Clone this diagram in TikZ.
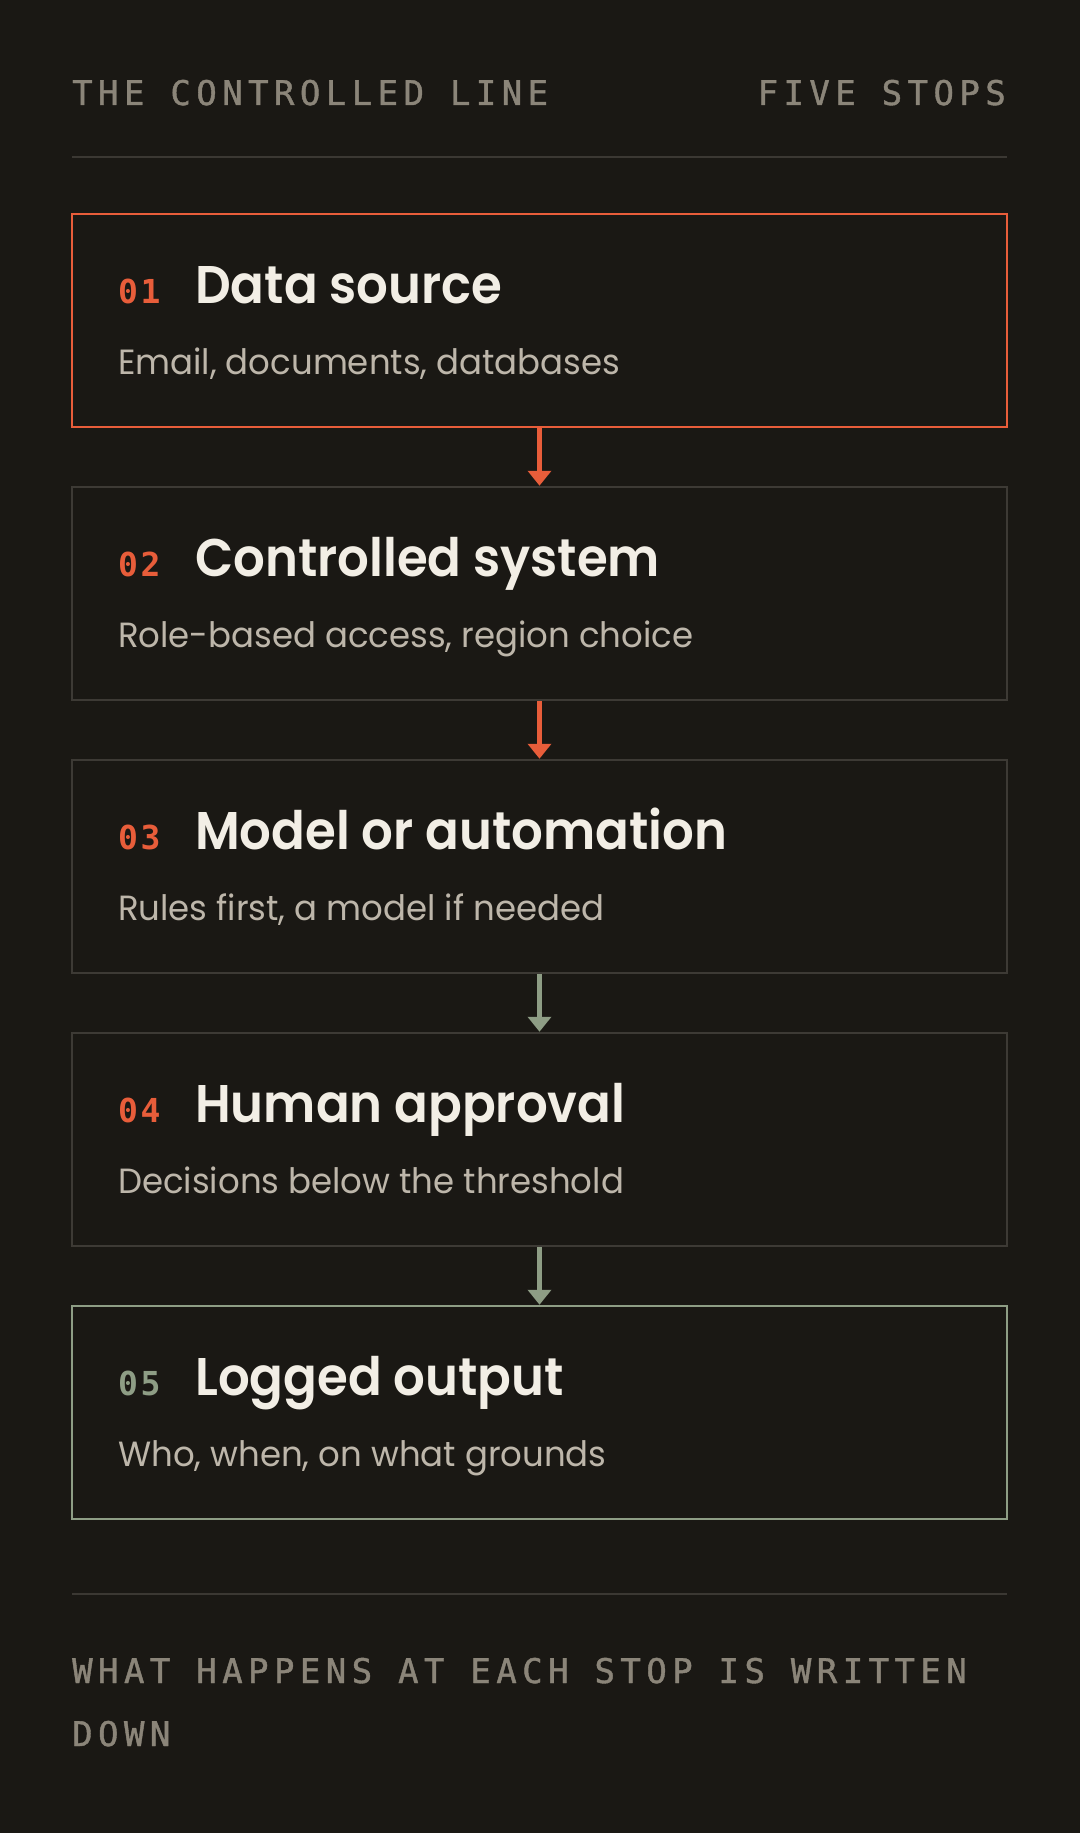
\documentclass[tikz,border=0pt]{standalone}
\usepackage{fontspec}
\usetikzlibrary{arrows.meta}
\newfontfamily\hdrfont{DejaVu Sans Mono}[LetterSpace=16,FakeBold=1.2]
\newfontfamily\numfont{DejaVu Sans Mono}[LetterSpace=8]
\newfontfamily\titlefont{Poppins SemiBold}[FakeStretch=0.94]
\newfontfamily\subfont{Poppins}[FakeStretch=0.97]
\definecolor{bg}{HTML}{1A1814}
\definecolor{accent}{HTML}{E85D3A}
\definecolor{hdrgray}{HTML}{8B8579}
\definecolor{rulecol}{HTML}{3B3833}
\definecolor{cream}{HTML}{F2EEE5}
\definecolor{subcol}{HTML}{BDB6AA}
\definecolor{sage}{HTML}{8E9D85}
\definecolor{boxgray}{HTML}{3D3A35}
\tikzset{
  hdr/.style={inner sep=0pt, text=hdrgray, font=\hdrfont\fontsize{34}{63}\selectfont},
  stopbox/.style={draw=boxgray, line width=2.5pt, minimum width=935pt, minimum height=213pt, inner sep=0pt},
  num/.style={inner sep=0pt, anchor=base west, font=\numfont\bfseries\fontsize{33}{40}\selectfont},
  ttl/.style={inner sep=0pt, anchor=base west, text=cream, font=\titlefont\fontsize{53}{60}\selectfont},
  sub/.style={inner sep=0pt, anchor=base west, text=subcol, font=\subfont\fontsize{35}{42}\selectfont},
  link/.style={line width=5pt, -{Triangle[width=23pt,length=15pt]}},
}
\begin{document}
\begin{tikzpicture}[x=1pt,y=-1pt]
\fill[bg] (0,0) rectangle (1080,1833);
\useasboundingbox (0,0) rectangle (1080,1833);
% header
\node[hdr, anchor=base west] (h1) at (72,105) {THE CONTROLLED LINE};
\node[hdr, anchor=base east] (h2) at (1006,105) {FIVE STOPS};
\coordinate (r1a) at (72,157);
\coordinate (r1b) at (1007,157);
\draw[rulecol, line width=2.5pt] (r1a) -- (r1b);
% boxes
\node[stopbox, draw=accent] (b1) at (539.5,320.5) {};
\node[stopbox] (b2) at (539.5,593.5) {};
\node[stopbox] (b3) at (539.5,866.5) {};
\node[stopbox] (b4) at (539.5,1139.5) {};
\node[stopbox, draw=sage] (b5) at (539.5,1412.5) {};
% texts
\node[num, text=accent] (n1) at (118,303) {01};
\node[ttl] (t1) at (195,303) {Data source};
\node[sub] (s1) at (118,374) {Email, documents, databases};
\node[num, text=accent] (n2) at (118,576) {02};
\node[ttl] (t2) at (195,576) {Controlled system};
\node[sub] (s2) at (118,647) {Role-based access, region choice};
\node[num, text=accent] (n3) at (118,849) {03};
\node[ttl] (t3) at (195,849) {Model or automation};
\node[sub] (s3) at (118,920) {Rules first, a model if needed};
\node[num, text=accent] (n4) at (118,1122) {04};
\node[ttl] (t4) at (195,1122) {Human approval};
\node[sub] (s4) at (118,1193) {Decisions below the threshold};
\node[num, text=sage] (n5) at (118,1395) {05};
\node[ttl] (t5) at (195,1395) {Logged output};
\node[sub] (s5) at (118,1466) {Who, when, on what grounds};
% arrows
\draw[link, accent] (b1.south) -- (b2.north);
\draw[link, accent] (b2.south) -- (b3.north);
\draw[link, sage] (b3.south) -- (b4.north);
\draw[link, sage] (b4.south) -- (b5.north);
% footer
\coordinate (r2a) at (72,1594);
\coordinate (r2b) at (1007,1594);
\draw[rulecol, line width=2.5pt] (r2a) -- (r2b);
\node[hdr, anchor=base west] (f1) at (72,1683) {WHAT HAPPENS AT EACH STOP IS WRITTEN};
\node[hdr, anchor=base west] (f2) at (72,1746) {DOWN};
\end{tikzpicture}
\end{document}
